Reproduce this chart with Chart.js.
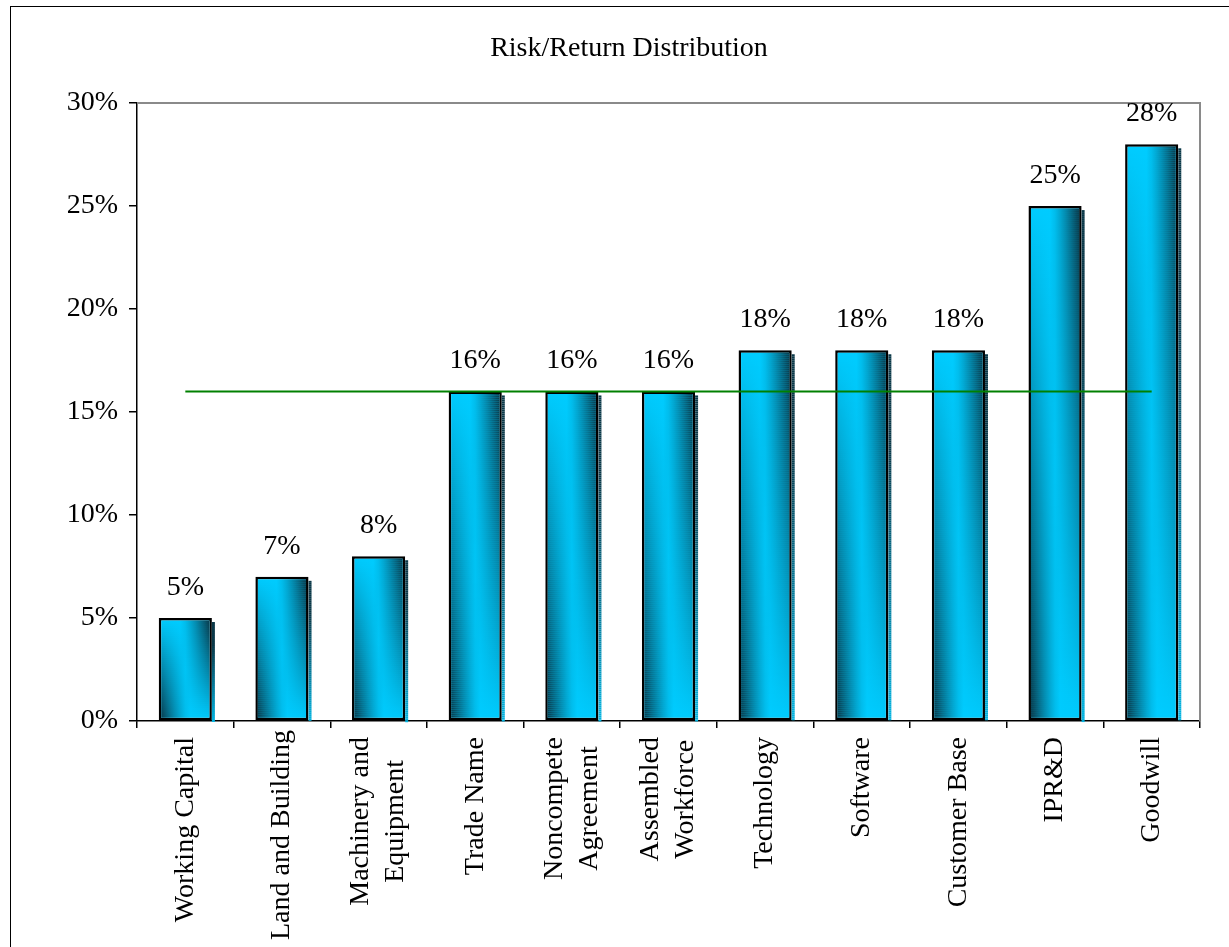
<!DOCTYPE html>
<html lang="en">
<head>
  <meta charset="UTF-8" />
  <title>Risk/Return Distribution</title>
  <script src="https://cdn.jsdelivr.net/npm/chart.js@4.4.0/dist/chart.umd.min.js"></script>
  <style>
    html, body { margin: 0; padding: 0; background: #fff; overflow: hidden; }
    #wrap { position: relative; width: 1229px; height: 947px; }
    #frame {
      position: absolute; left: 10px; top: 6px; width: 1400px; height: 1100px;
      border-left: 1.5px solid #000; border-top: 1.5px solid #000; pointer-events: none;
    }
    canvas { position: absolute; left: 0; top: 0; }
  </style>
</head>
<body>
  <div id="wrap">
    <canvas id="riskChart" width="1229" height="947"></canvas>
    <div id="frame"></div>
  </div>

  <script>
    const categories = [
      "Working Capital",
      "Land and Building",
      ["Machinery and", "Equipment"],
      "Trade Name",
      ["Noncompete", "Agreement"],
      ["Assembled", "Workforce"],
      "Technology",
      "Software",
      "Customer Base",
      "IPR&D",
      "Goodwill"
    ];
    // required return per asset class, in percent
    const returns = [5, 7, 8, 16, 16, 16, 18, 18, 18, 25, 28];
    // weighted average line
    const average = [16, 16, 16, 16, 16, 16, 16, 16, 16, 16, 16];
    const yTicks = [0, 5, 10, 15, 20, 25, 30];

    const SERIF = '"Liberation Serif", "Times New Roman", serif';
    const CYAN = [0, 204, 255];
    const DARK = [10, 38, 50];

    // twisted shading: dark on the right near the top, dark on the left near the bottom
    function shade(u, t) {
      const right = (1 - t) * Math.pow(Math.max(0, (u - 0.4) / 0.6), 1.3);
      const left = t * Math.pow(Math.max(0, (0.6 - u) / 0.6), 1.3);
      return Math.min(0.92, Math.max(right, left));
    }
    function rgba(c, a) { return `rgba(${c[0]},${c[1]},${c[2]},${a.toFixed(3)})`; }

    const barShading = {
      id: 'barShading',
      afterDatasetDraw(chart, args) {
        if (args.index !== 0) return;
        const ctx = chart.ctx;
        const bw = 2.5;
        args.meta.data.forEach(el => {
          const { x, y, base, width } = el.getProps(['x', 'y', 'base', 'width'], true);
          const left = x - width / 2, right = x + width / 2;
          const top = Math.min(y, base), bottom = Math.max(y, base);
          const h = bottom - top;
          ctx.save();
          // shading inside the outline
          ctx.beginPath();
          ctx.rect(left + bw, top + bw, width - 2 * bw, h - 2 * bw);
          ctx.clip();
          for (let sy = top; sy < bottom; sy += 2) {
            const t = (sy - top) / h;
            const g = ctx.createLinearGradient(left, 0, right, 0);
            for (let i = 0; i <= 10; i++) {
              const u = i / 10;
              g.addColorStop(u, rgba(DARK, shade(u, t)));
            }
            ctx.fillStyle = g;
            ctx.fillRect(left, sy, width, 2);
          }
          ctx.restore();
          // thin extrusion on the right side
          ctx.save();
          for (let sy = top + 4; sy < bottom; sy += 2) {
            const t = (sy - top) / h;
            const a = Math.min(0.9, shade(1, t) + 0.15);
            const c = CYAN.map((v, k) => Math.round(v * (1 - a) + DARK[k] * a));
            ctx.fillStyle = rgba(c, 1);
            ctx.fillRect(right, sy, 3, 2);
          }
          ctx.restore();
        });
      }
    };

    const valueLabels = {
      id: 'valueLabels',
      afterDatasetsDraw(chart) {
        const ctx = chart.ctx;
        const meta = chart.getDatasetMeta(0);
        ctx.save();
        ctx.font = `28px ${SERIF}`;
        ctx.fillStyle = '#000';
        ctx.textAlign = 'center';
        ctx.textBaseline = 'alphabetic';
        meta.data.forEach((el, i) => {
          ctx.fillText(returns[i] + '%', el.x, el.y - 23);
        });
        ctx.restore();
      }
    };

    // vertical category labels, wrapped lines centred on each other
    const categoryLabels = {
      id: 'categoryLabels',
      afterDraw(chart) {
        const ctx = chart.ctx;
        const xs = chart.scales.x;
        const lineH = 35;
        ctx.save();
        ctx.font = `28px ${SERIF}`;
        ctx.fillStyle = '#000';
        ctx.textAlign = 'center';
        ctx.textBaseline = 'middle';
        categories.forEach((lab, i) => {
          const lines = Array.isArray(lab) ? lab : [lab];
          const maxW = Math.max(...lines.map(s => ctx.measureText(s).width));
          const x = xs.getPixelForValue(i);
          const yTop = Math.min(xs.top + 16, chart.height - 7 - maxW);
          ctx.save();
          ctx.translate(x, yTop);
          ctx.rotate(-Math.PI / 2);
          lines.forEach((s, k) => {
            ctx.fillText(s, -maxW / 2, (k - (lines.length - 1) / 2) * lineH);
          });
          ctx.restore();
        });
        ctx.restore();
      }
    };

    const plotFrame = {
      id: 'plotFrame',
      beforeDatasetsDraw(chart) {
        const { ctx, chartArea: a } = chart;
        ctx.save();
        ctx.strokeStyle = '#8a8a8a';
        ctx.lineWidth = 2;
        ctx.beginPath();
        ctx.moveTo(a.left, a.top);
        ctx.lineTo(a.right, a.top);
        ctx.lineTo(a.right, a.bottom);
        ctx.stroke();
        ctx.restore();
      }
    };

    const ctx = document.getElementById('riskChart').getContext('2d');
    new Chart(ctx, {
      data: {
        labels: categories,
        datasets: [
          {
            type: 'bar',
            data: returns,
            backgroundColor: 'rgb(0,204,255)',
            borderColor: '#000',
            borderWidth: 2.5,
            borderSkipped: false,
            categoryPercentage: 1,
            barPercentage: 0.55,
            order: 1
          },
          {
            type: 'line',
            data: average,
            borderColor: '#008000',
            borderWidth: 2,
            pointRadius: 0,
            fill: false,
            order: 0
          }
        ]
      },
      options: {
        responsive: false,
        animation: false,
        events: [],
        layout: { padding: { left: 58, right: 29, top: 0, bottom: 0 } },
        plugins: {
          legend: { display: false },
          tooltip: { enabled: false },
          title: {
            display: true,
            text: 'Risk/Return Distribution',
            color: '#000',
            font: { family: SERIF, size: 28, weight: 'normal' },
            padding: { top: 32, bottom: 37.5 }
          }
        },
        scales: {
          x: {
            grid: {
              offset: true,
              drawOnChartArea: false,
              color: '#000',
              tickLength: 7,
              lineWidth: 1.5
            },
            border: { color: '#000', width: 1.5 },
            ticks: { display: false, autoSkip: false },
            afterFit(scale) { scale.height = 226; }
          },
          y: {
            min: 0,
            max: 30,
            afterBuildTicks(scale) { scale.ticks = yTicks.map(v => ({ value: v })); },
            grid: {
              drawOnChartArea: false,
              color: '#000',
              tickLength: 8,
              lineWidth: 1.5
            },
            border: { color: '#000', width: 1.5 },
            ticks: {
              color: '#000',
              font: { family: SERIF, size: 28 },
              padding: 11,
              callback: v => v + '%'
            },
            afterFit(scale) { scale.width = 79; }
          }
        }
      },
      plugins: [plotFrame, barShading, valueLabels, categoryLabels]
    });
  </script>
</body>
</html>
